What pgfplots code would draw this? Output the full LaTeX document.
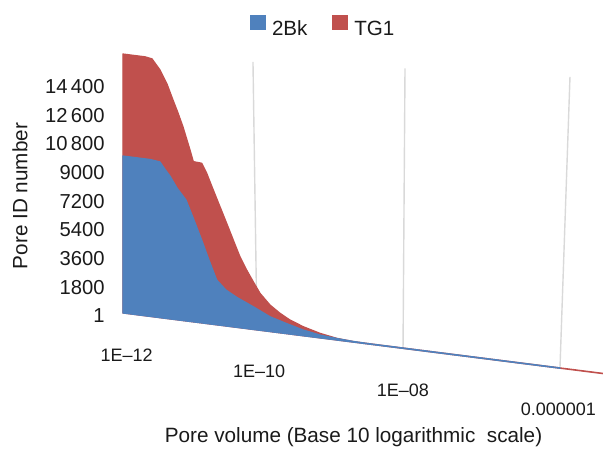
\documentclass[border=0pt]{standalone}
\usepackage{fontspec}
\setmainfont{Liberation Sans}
\usepackage{pgfplots}
\pgfplotsset{compat=1.18}
\definecolor{bk}{HTML}{4F81BD}
\definecolor{tg}{HTML}{C0504D}
\definecolor{gridc}{HTML}{D9D9D9}
\definecolor{txt}{HTML}{1A1A1A}
\begin{document}
\begin{tikzpicture}
\begin{axis}[
  x={(0.5pt,-0.0632pt)}, y={(0pt,0.007965pt)},
  x coord trafo/.code={\pgfmathparse{3.8+63.325*(#1+12)+1.4375*(#1+12)*(#1+12)}},
  xmin=-12.06, xmax=-5.451, ymin=0, ymax=18400,
  clip=false,
  scaled y ticks=false, scaled x ticks=false,
  axis line style={draw=none},
  major tick length=0pt,
  xtick={-12,-10,-8,-6},
  xticklabels={1E--12,1E--10,1E--08,0.000001},
  ytick={1,1800,3600,5400,7200,9000,10800,12600,14400},
  yticklabels={1,1800,3600,5400,7200,9000,10\,800,12\,600,14\,400},
  xticklabel style={anchor=center, inner sep=0pt, yshift=-20.7pt, font=\fontsize{9}{10}\selectfont, text=txt},
  yticklabel style={anchor=east, inner sep=0pt, xshift=-8.9pt, yshift=-1.5pt, font=\fontsize{10.1}{12}\selectfont, text=txt},
  xlabel={Pore volume (Base 10 logarithmic~ scale)},
  ylabel={Pore ID number},
  xlabel style={at={(axis cs:-8.669,-5954)}, anchor=center, inner sep=0pt, font=\fontsize{10.35}{12}\selectfont, text=txt},
  ylabel style={at={(axis cs:-13.754,6528)}, anchor=center, inner sep=0pt, font=\fontsize{10.35}{12}\selectfont, text=txt},
  legend columns=2,
  legend image code/.code={\path[#1,draw=none] (0pt,-0.3pt) rectangle (7.8pt,7.6pt);\path (0pt,0pt) (10.8pt,0pt);},
  legend style={at={(axis cs:-9.105,19540)}, anchor=center, draw=none, fill=none,
    inner sep=0pt, font=\fontsize{10.3}{12}\selectfont, text=txt,
    nodes={inner sep=0pt},
    /tikz/every odd column/.append style={column sep=0pt},
    /tikz/every even column/.append style={column sep=12pt}},
]
% back-wall gridlines
\draw[gridc, line width=0.7pt] (axis cs:-10.030,0) -- (axis cs:-10.088,16789);
\draw[gridc, line width=0.7pt] (axis cs:-7.999,0) -- (axis cs:-7.9725,17579);
\draw[gridc, line width=0.7pt] (axis cs:-5.980,0) -- (axis cs:-5.856,18363);

\addlegendimage{fill=bk, draw=bk}
\addlegendentry{2Bk}

% TG1 (behind)
\addplot[fill=tg, draw=tg, line width=0.6pt, line join=round] coordinates {
(-12.06,0) (-12.06,16250) (-11.712,16250) (-11.603,16177) (-11.480,15549)
(-11.372,14725) (-11.280,13769) (-11.203,12993) (-11.127,12153) (-11.021,10765)
(-10.971,10057) (-10.845,10023) (-10.770,9435) (-10.672,8439) (-10.572,7444)
(-10.473,6455) (-10.376,5459) (-10.278,4464) (-10.180,3682) (-10.084,3000)
(-9.986,2325) (-9.842,1670) (-9.698,1228) (-9.556,887) (-9.368,572)
(-9.133,290) (-8.901,109) (-8.672,40) (-8.444,30) (-5.451,25) (-5.451,0)
} -- cycle;
\addlegendentry{TG1}

% 2Bk (front)
\addplot[fill=bk, draw=bk, line width=0.6pt, line join=round, forget plot] coordinates {
(-12.06,0) (-12.06,9850) (-11.634,9850) (-11.480,9774) (-11.402,9350)
(-11.326,8974) (-11.219,8276) (-11.082,7594) (-10.961,6402) (-10.845,5208)
(-10.736,4011) (-10.621,2816) (-10.484,2262) (-10.321,1879) (-10.084,1431)
(-9.842,935) (-9.617,653) (-9.368,365) (-9.133,183) (-8.901,100)
(-8.672,45) (-8.444,30) (-5.98,25) (-5.98,0)
} -- cycle;

\coordinate (O) at (axis cs:-12.06,0);
\end{axis}
\pgfresetboundingbox
\path[use as bounding box] (O) ++(-61.425pt,156.5pt) rectangle ++(301.5pt,-228.5pt);
\end{tikzpicture}
\end{document}
